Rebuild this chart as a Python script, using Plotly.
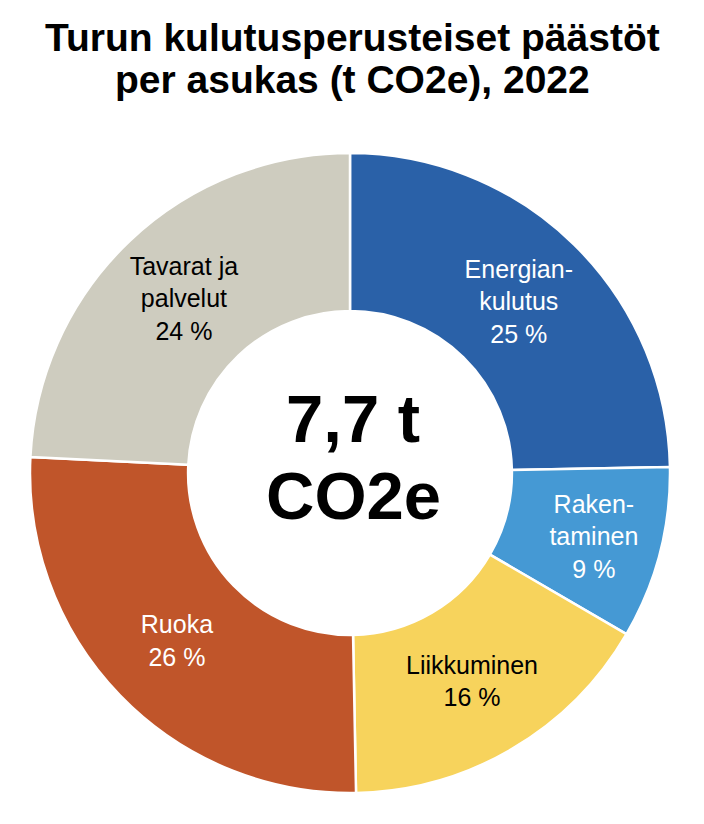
import plotly.graph_objects as go

# Data
categories = ["Energian-<br>kulutus", "Raken-<br>taminen", "Liikkuminen", "Ruoka", "Tavarat ja<br>palvelut"]
shares = [24.7, 8.7, 16.3, 26.1, 24.2]
colors = ["#2A61A8", "#4599D4", "#F7D35C", "#C0552A", "#CECCBF"]
text_colors = ["white", "white", "black", "white", "black"]
title_lines = ["Turun kulutusperusteiset päästöt", "per asukas (t CO2e), 2022"]
center_lines = ["7,7 t", "CO2e"]

W, H = 704, 824
FONT = "Liberation Sans, Arial, Helvetica, sans-serif"

fig = go.Figure(go.Pie(
    labels=categories,
    values=shares,
    sort=False,
    direction="clockwise",
    rotation=0,
    hole=0.506,
    marker=dict(colors=colors, line=dict(color="white", width=2.5)),
    textinfo="text",
    texttemplate="%{label}<br>%{value:.0f} %",
    textposition="inside",
    insidetextorientation="horizontal",
    textfont=dict(family=FONT, size=25, color=text_colors),
    domain=dict(x=[30 / W, 670 / W], y=[(H - 793) / H, (H - 153) / H]),
    showlegend=False,
    hoverinfo="label+value",
))

annotations = []
for line, yc in zip(title_lines, [38, 80]):
    annotations.append(dict(
        text=f"<b>{line}</b>", x=0.5, y=1 - yc / H, xref="paper", yref="paper",
        xanchor="center", yanchor="middle", showarrow=False,
        font=dict(family=FONT, size=39, color="black"),
    ))
for line, yc in zip(center_lines, [418, 496]):
    annotations.append(dict(
        text=f"<b>{line}</b>", x=353 / W, y=1 - yc / H, xref="paper", yref="paper",
        xanchor="center", yanchor="middle", showarrow=False,
        font=dict(family=FONT, size=67, color="black"),
    ))

fig.update_layout(
    width=W, height=H,
    margin=dict(l=0, r=0, t=0, b=0),
    paper_bgcolor="white",
    plot_bgcolor="white",
    annotations=annotations,
)

fig.write_html("out.html", config={"displayModeBar": False},
               post_script="document.body.style.margin='0px';")
